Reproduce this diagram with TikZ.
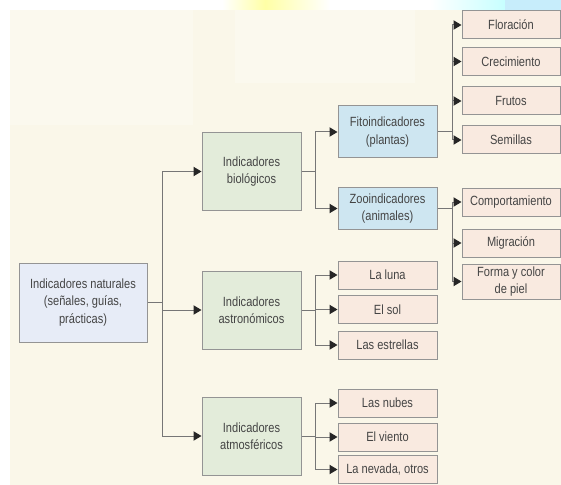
\documentclass[tikz,border=0pt]{standalone}
\usepackage{fontspec}
\setmainfont[FakeStretch=0.83]{Liberation Sans}
\usetikzlibrary{arrows.meta}

\definecolor{fondo}{RGB}{250,247,233}
\definecolor{fondoclaro}{RGB}{251,249,238}
\definecolor{borde}{RGB}{148,148,148}
\definecolor{linea}{RGB}{118,118,118}
\definecolor{texto}{RGB}{68,68,68}
\definecolor{raiz}{RGB}{231,236,247}
\definecolor{verde}{RGB}{227,236,218}
\definecolor{celeste}{RGB}{206,230,241}
\definecolor{rosa}{RGB}{249,234,224}

\tikzset{
  caja/.style={draw=borde, line width=0.75pt, inner sep=0pt, align=center,
    text=texto, font=\fontsize{10}{13}\selectfont},
  raizbox/.style={caja, fill=raiz, minimum width=96pt, minimum height=59.25pt},
  grupobox/.style={caja, fill=verde, minimum width=74.25pt, minimum height=58.5pt},
  subbox/.style={caja, fill=celeste, minimum width=74.25pt, minimum height=39pt},
  hojabox/.style={caja, fill=rosa, minimum width=74.25pt, minimum height=21pt},
  tramo/.style={draw=linea, line width=0.75pt},
  flecha/.style={tramo, -{Triangle[length=6pt,width=7pt,color=black!85]}}
}

\begin{document}
\begin{tikzpicture}[x=0.75pt,y=0.75pt,yscale=-1,xscale=1]
\useasboundingbox (0,0) rectangle (561,485);

%Background
\fill[white] (0,0) rectangle (561,485);
\fill[fondo] (10,10) rectangle (561,485);
\fill[fondoclaro] (10,10) rectangle (193,125);
\fill[fondoclaro] (235,10) rectangle (415,83);
%Logo strip on top
\shade[left color=white, right color=yellow!35] (222,0) rectangle (265,10);
\shade[left color=yellow!35, right color=white] (265,0) rectangle (330,10);
\shade[left color=white, right color=cyan!22] (430,0) rectangle (505,10);
\fill[cyan!22] (505,0) rectangle (561,10);

% Text Node
\node[raizbox] (raiz) at (83,302.5) {Indicadores naturales\\(señales, guías,\\prácticas)};
% Text Node
\node[grupobox] (bio) at (251.5,171.5) {Indicadores\\biológicos};
% Text Node
\node[grupobox] (astro) at (251.5,310) {Indicadores\\astronómicos};
% Text Node
\node[grupobox] (atmos) at (251.5,436) {Indicadores\\atmosféricos};
% Text Node
\node[subbox] (fito) at (387.5,132) {Fitoindicadores\\(plantas)};
% Text Node
\node[subbox, minimum height=31.5pt] (zoo) at (387.5,208.5) {Zooindicadores\\(animales)};

% Text Node
\node[hojabox, minimum width=73.5pt] (flor) at (511,25) {Floración};
\node[hojabox, minimum width=73.5pt] (crec) at (511,61.5) {Crecimiento};
\node[hojabox, minimum width=73.5pt] (frut) at (511,101) {Frutos};
\node[hojabox, minimum width=73.5pt] (semi) at (511,140) {Semillas};
% Text Node
\node[hojabox, minimum width=73.5pt] (comp) at (511,202) {Comportamiento};
\node[hojabox, minimum width=73.5pt] (migr) at (511,243) {Migración};
\node[hojabox, minimum width=73.5pt, minimum height=26.25pt] (forma) at (511,281.5) {Forma y color\\de piel};
% Text Node
\node[hojabox] (luna) at (387.5,275) {La luna};
\node[hojabox] (sol) at (387.5,309.5) {El sol};
\node[hojabox] (estr) at (387.5,345) {Las estrellas};
% Text Node
\node[hojabox] (nubes) at (387.5,403) {Las nubes};
\node[hojabox] (viento) at (387.5,437) {El viento};
\node[hojabox] (nevada) at (387.5,469.5) {La nevada, otros};

%Trunks
\coordinate (t0) at (162,0);
\coordinate (t1) at (315,0);
\coordinate (t2) at (452,0);

%Straight Lines: first level
\draw[tramo] (raiz.east) -- (raiz.east -| t0);
\draw[tramo] (bio.west -| t0) -- (atmos.west -| t0);
\foreach \n in {bio,astro,atmos}
  \draw[flecha] (\n.west -| t0) -- (\n.west);

%Straight Lines: biological
\draw[tramo] (bio.east) -- (bio.east -| t1);
\draw[tramo] (fito.west -| t1) -- (zoo.west -| t1);
\foreach \n in {fito,zoo}
  \draw[flecha] (\n.west -| t1) -- (\n.west);

%Straight Lines: plants
\draw[tramo] (fito.east) -- (fito.east -| t2);
\draw[tramo] (flor.west -| t2) -- (semi.west -| t2);
\foreach \n in {flor,crec,frut,semi}
  \draw[flecha] (\n.west -| t2) -- (\n.west);

%Straight Lines: animals
\draw[tramo] (zoo.east) -- (zoo.east -| t2);
\draw[tramo] (comp.west -| t2) -- (forma.west -| t2);
\foreach \n in {comp,migr,forma}
  \draw[flecha] (\n.west -| t2) -- (\n.west);

%Straight Lines: astronomical
\draw[tramo] (astro.east) -- (astro.east -| t1);
\draw[tramo] (luna.west -| t1) -- (estr.west -| t1);
\foreach \n in {luna,sol,estr}
  \draw[flecha] (\n.west -| t1) -- (\n.west);

%Straight Lines: atmospheric
\draw[tramo] (atmos.east) -- (atmos.east -| t1);
\draw[tramo] (nubes.west -| t1) -- (nevada.west -| t1);
\foreach \n in {nubes,viento,nevada}
  \draw[flecha] (\n.west -| t1) -- (\n.west);
\end{tikzpicture}
\end{document}
